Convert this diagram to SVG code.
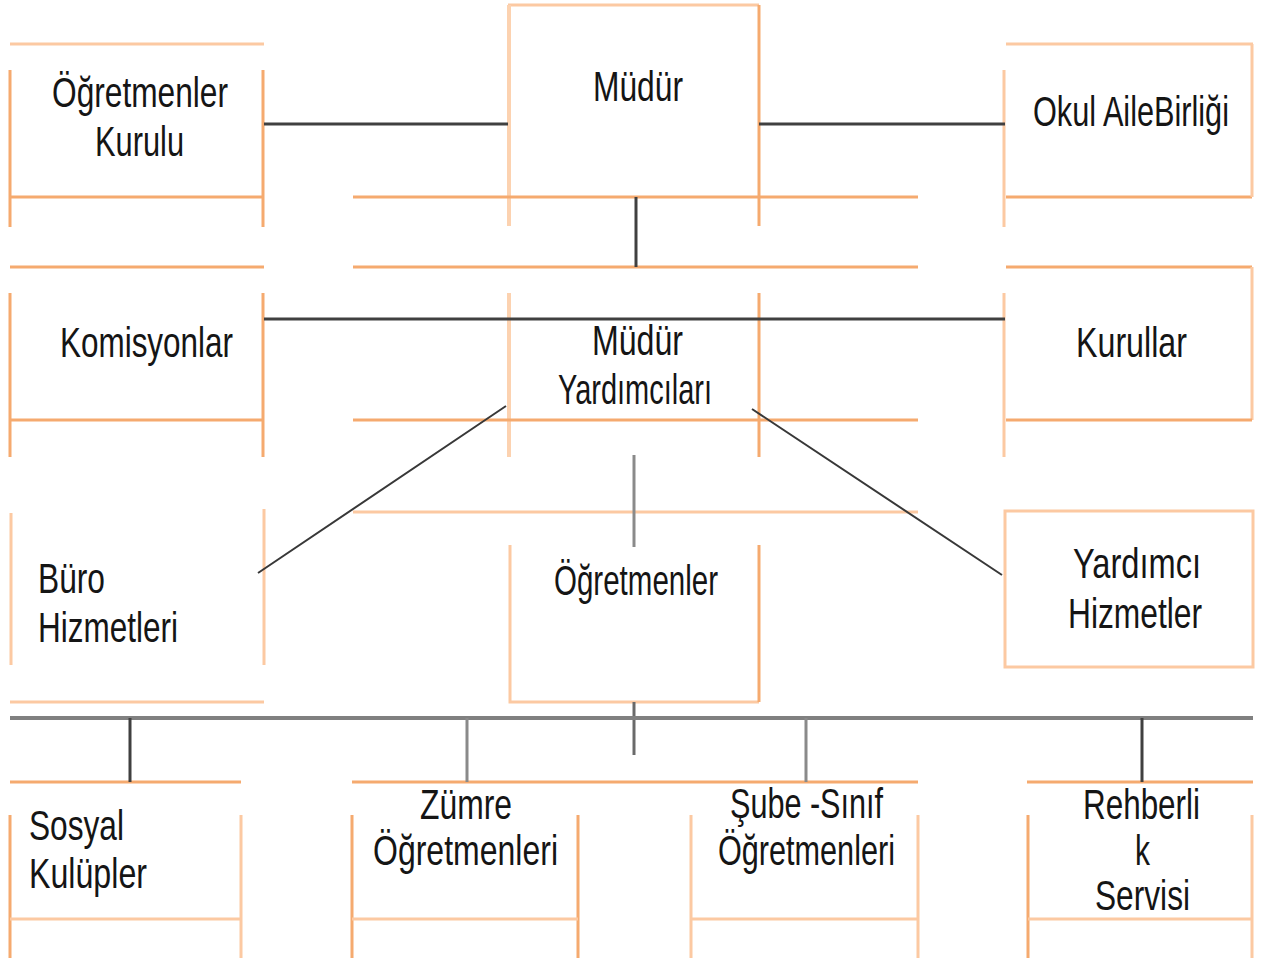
<svg xmlns="http://www.w3.org/2000/svg" width="1269" height="958" viewBox="0 0 1269 958">
<style>
.o1{stroke:#f5aa6f;stroke-width:3;fill:none}
.o2{stroke:#fcc9a2;stroke-width:3;fill:none}
.o3{stroke:#fcd2b0;stroke-width:4;fill:none}
.dk{stroke:#404040;stroke-width:3;fill:none}
.dg{stroke:#383838;stroke-width:2;fill:none}
.gr{stroke:#8a8a8a;stroke-width:3;fill:none}
.bus{stroke:#808080;stroke-width:4;fill:none}
text{font-family:"Liberation Sans",Arial,sans-serif;font-size:42px;fill:#151515}
</style>
<rect width="1269" height="958" fill="#ffffff"/>
<g id="grid">
<path class="o2" d="M10 44H264M508 5H759M1006 44H1253"/>
<path class="o3" d="M509 5V226"/>
<path class="o1" d="M759 5V226"/>
<path class="o1" d="M10 197H264M353 197H918M1006 197H1252"/>
<path class="o1" d="M10 70V227M263 70V227"/>
<path class="o2" d="M1004 70V227M1252 44V197"/>
<path class="o1" d="M10 267H264M353 267H918M1006 267H1252"/>
<path class="o1" d="M10 293V457M263 293V457M759 293V457"/>
<path class="o3" d="M509 293V457"/>
<path class="o2" d="M1004 293V457M1252 267V420"/>
<path class="o1" d="M10 420H264M353 420H918M1006 420H1252"/>
<path class="o2" d="M11 513V665M264 509V665M10 702H264M353 512H918"/>
<path class="o2" d="M510 545V702H759"/>
<path class="o1" d="M759 545V702"/>
<path class="o1" d="M10 782H241M352 782H918M1027 782H1253"/>
<path class="o1" d="M10 815V958M352 815V958M578 815V958M1028 815V958"/>
<path class="o2" d="M241 815V958M691 815V958M918 815V958M1252 815V958"/>
<path class="o2" d="M10 919H241M352 919H578M691 919H918M1028 919H1252"/>
</g>
<g id="connectors">
<path class="dk" d="M264 124H508M759 124H1005"/>
<path class="dk" d="M636 197V267"/>
<path class="dk" d="M264 319H1005"/>
<path class="dg" d="M506 406L258 573M752 409L1002 575"/>
<path class="gr" d="M634 455V547"/>
<path class="gr" style="stroke:#6a6a6a" d="M634 702V755"/>
<path class="bus" d="M10 718H1253"/>
<path class="dk" d="M130 718V782M1142 718V782"/>
<path class="gr" d="M467 718V782M806 718V782"/>
</g>
<g id="n-ogretmenler-kurulu">
<text x="52" y="107" textLength="176" lengthAdjust="spacingAndGlyphs">Öğretmenler</text>
<text x="95" y="156" textLength="89" lengthAdjust="spacingAndGlyphs">Kurulu</text>
</g>
<g id="n-mudur">
<text x="593" y="101" textLength="90" lengthAdjust="spacingAndGlyphs">Müdür</text>
</g>
<g id="n-okul-aile-birligi">
<text x="1033" y="126" textLength="196" lengthAdjust="spacingAndGlyphs">Okul AileBirliği</text>
</g>
<g id="n-komisyonlar">
<text x="60" y="357" textLength="173" lengthAdjust="spacingAndGlyphs">Komisyonlar</text>
</g>
<g id="n-mudur-yardimcilari">
<text x="592" y="355" textLength="91" lengthAdjust="spacingAndGlyphs">Müdür</text>
<text x="558" y="404" textLength="154" lengthAdjust="spacingAndGlyphs">Yardımcıları</text>
</g>
<g id="n-kurullar">
<text x="1076" y="357" textLength="111" lengthAdjust="spacingAndGlyphs">Kurullar</text>
</g>
<g id="n-buro-hizmetleri">
<text x="38" y="593" textLength="67" lengthAdjust="spacingAndGlyphs">Büro</text>
<text x="38" y="642" textLength="140" lengthAdjust="spacingAndGlyphs">Hizmetleri</text>
</g>
<g id="n-ogretmenler">
<text x="554" y="595" textLength="164" lengthAdjust="spacingAndGlyphs">Öğretmenler</text>
</g>
<g id="n-yardimci-hizmetler">
<rect class="o2" x="1005" y="511" width="248" height="156"/>
<text x="1073" y="578" textLength="128" lengthAdjust="spacingAndGlyphs">Yardımcı</text>
<text x="1068" y="628" textLength="134" lengthAdjust="spacingAndGlyphs">Hizmetler</text>
</g>
<g id="n-sosyal-kulupler">
<text x="29" y="840" textLength="95" lengthAdjust="spacingAndGlyphs">Sosyal</text>
<text x="29" y="888" textLength="118" lengthAdjust="spacingAndGlyphs">Kulüpler</text>
</g>
<g id="n-zumre-ogretmenleri">
<text x="420" y="819" textLength="92" lengthAdjust="spacingAndGlyphs">Zümre</text>
<text x="373" y="865" textLength="185" lengthAdjust="spacingAndGlyphs">Öğretmenleri</text>
</g>
<g id="n-sube-sinif-ogretmenleri">
<text x="730" y="818" textLength="153" lengthAdjust="spacingAndGlyphs">Şube -Sınıf</text>
<text x="718" y="865" textLength="177" lengthAdjust="spacingAndGlyphs">Öğretmenleri</text>
</g>
<g id="n-rehberlik-servisi">
<text x="1083" y="819" textLength="117" lengthAdjust="spacingAndGlyphs">Rehberli</text>
<text x="1135" y="865" textLength="15" lengthAdjust="spacingAndGlyphs">k</text>
<text x="1095" y="910" textLength="95" lengthAdjust="spacingAndGlyphs">Servisi</text>
</g>
</svg>
